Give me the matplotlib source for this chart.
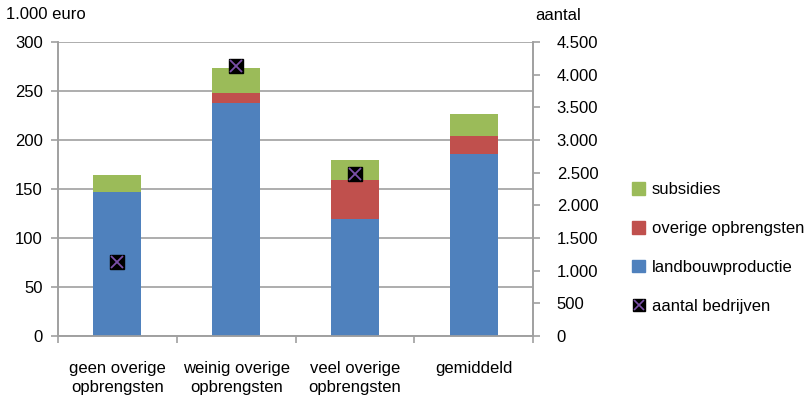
import matplotlib
matplotlib.use("Agg")
import matplotlib.pyplot as plt
import numpy as np
from matplotlib.lines import Line2D
from matplotlib.patches import Patch

plt.rcParams['font.family'] = ['Liberation Sans', 'DejaVu Sans']

categories = ["geen overige\nopbrengsten", "weinig overige\nopbrengsten", "veel overige\nopbrengsten", "gemiddeld"]
landbouw = [147, 238, 119, 186]
overige = [0, 9.5, 40, 18]
subsidies = [17, 25.5, 21, 22.5]
aantal = [1130, 4135, 2485, None]

left_ticks = [0, 50, 100, 150, 200, 250, 300]
right_ticks = [0, 500, 1000, 1500, 2000, 2500, 3000, 3500, 4000, 4500]
right_labels = ["0", "500", "1.000", "1.500", "2.000", "2.500", "3.000", "3.500", "4.000", "4.500"]

c_blue = "#4F81BD"
c_red = "#C0504D"
c_green = "#9BBB59"
c_grid = "#A0A0A0"

fig = plt.figure(figsize=(8.07, 4.03), dpi=100)
ax = fig.add_axes([0.0719, 0.1663, 0.5886, 0.7295])
x = np.arange(len(categories))
w = 0.405
ax.bar(x, landbouw, w, color=c_blue, zorder=3)
ax.bar(x, overige, w, bottom=landbouw, color=c_red, zorder=3)
bot2 = [a + b for a, b in zip(landbouw, overige)]
ax.bar(x, subsidies, w, bottom=bot2, color=c_green, zorder=3)

ax.set_xlim(-0.5, len(categories) - 0.5)
ax.set_ylim(0, 300)
ax.set_yticks(left_ticks)
ax.yaxis.grid(True, color=c_grid, linewidth=1.2, zorder=0)
ax.set_xticks(x)
ax.set_xticklabels(categories, fontsize=12, linespacing=1.3)
ax.set_xticks(np.arange(-0.5, len(categories) + 0.5, 1), minor=True)
ax.tick_params(axis='x', which='major', length=0, pad=18)
ax.tick_params(axis='x', which='minor', length=5, color=c_grid, width=1.2)
ax.tick_params(axis='y', labelsize=12, length=5, color=c_grid, width=1.2, pad=6)
for s in ['left', 'bottom', 'right']:
    ax.spines[s].set_color(c_grid)
    ax.spines[s].set_linewidth(1.2)
ax.spines['top'].set_visible(False)

ax2 = ax.twinx()
ax2.set_ylim(0, 4500)
ax2.set_yticks(right_ticks)
ax2.set_yticklabels(right_labels)
ax2.tick_params(axis='y', labelsize=12, length=5, color=c_grid, width=1.2, pad=12)
for s in ['left', 'bottom', 'right']:
    ax2.spines[s].set_color(c_grid)
    ax2.spines[s].set_linewidth(1.2)
ax2.spines['top'].set_visible(False)

mx = [xi for xi, a in zip(x, aantal) if a is not None]
my = [a for a in aantal if a is not None]
ax2.plot(mx, my, linestyle='none', marker='s', markersize=10, color='black', zorder=5)
ax2.plot(mx, my, linestyle='none', marker='x', markersize=8, color='#7A4FA8', markeredgewidth=1.3, zorder=6)

fig.text(0.008, 0.965, "1.000 euro", fontsize=12, va='center', ha='left')
fig.text(0.663, 0.962, "aantal", fontsize=12, va='center', ha='left')

handles = [
    Patch(color=c_green),
    Patch(color=c_red),
    Patch(color=c_blue),
    (Line2D([], [], linestyle='none', marker='s', markersize=9, color='black'),
     Line2D([], [], linestyle='none', marker='x', markersize=7, color='#7A4FA8', markeredgewidth=1.2)),
]
labels = ["subsidies", "overige opbrengsten", "landbouwproductie", "aantal bedrijven"]
fig.legend(handles, labels, loc='upper left', bbox_to_anchor=(0.775, 0.565), frameon=False,
           fontsize=12, handlelength=0.8, handleheight=0.8, handletextpad=0.4, labelspacing=1.42,
           borderaxespad=0)

fig.savefig("out.png", dpi=100)
